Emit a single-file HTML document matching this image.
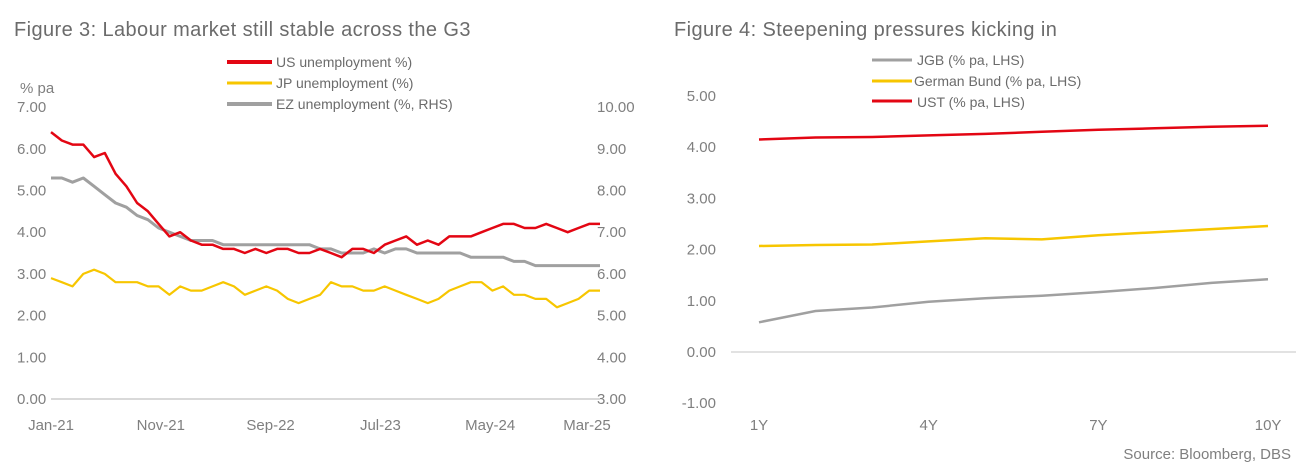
<!DOCTYPE html>
<html><head><meta charset="utf-8"><style>
html,body{margin:0;padding:0;background:#fff;}
svg{display:block;font-family:"Liberation Sans",sans-serif;}
.t{font-size:15px;fill:#7f7f7f}
.h{font-size:20px;fill:#6b6b6b;letter-spacing:0.4px}
.l{font-size:14px;fill:#6b6b6b}
</style></head><body>
<svg id="s" width="1303" height="469" viewBox="0 0 1303 469">
<text x="14" y="36" class="h">Figure 3:  Labour market still stable across the G3</text>
<text x="674" y="36" class="h">Figure 4:  Steepening pressures kicking in</text>
<text x="20" y="93" class="t">% pa</text>
<line x1="227" y1="62" x2="272" y2="62" stroke="#e30613" stroke-width="4"/>
<text x="276" y="67" class="l">US unemployment %)</text>
<line x1="227" y1="83" x2="272" y2="83" stroke="#f7c600" stroke-width="3"/>
<text x="276" y="88" class="l">JP unemployment (%)</text>
<line x1="227" y1="104" x2="272" y2="104" stroke="#a0a0a0" stroke-width="4"/>
<text x="276" y="109" class="l">EZ unemployment (%, RHS)</text>
<line x1="51" y1="399" x2="600" y2="399" stroke="#d9d9d9" stroke-width="2"/>
<line x1="731" y1="352" x2="1296" y2="352" stroke="#d9d9d9" stroke-width="1.5"/>
<line x1="872" y1="60" x2="912" y2="60" stroke="#a0a0a0" stroke-width="3"/>
<text x="917" y="65" class="l">JGB (% pa, LHS)</text>
<line x1="872" y1="81" x2="912" y2="81" stroke="#f7c600" stroke-width="3"/>
<text x="914" y="86" class="l">German Bund (% pa, LHS)</text>
<line x1="872" y1="101" x2="912" y2="101" stroke="#e30613" stroke-width="3"/>
<text x="917" y="107" class="l">UST (% pa, LHS)</text>
<text x="1291" y="459" class="t" text-anchor="end">Source: Bloomberg, DBS</text>
<g id="g"></g>
</svg>
<script>
var g=document.getElementById('g'),h='';
function T(x,y,s,a){h+='<text x="'+x+'" y="'+y+'" class="t" text-anchor="'+(a||'start')+'">'+s+'</text>';}
for(var i=0;i<=7;i++){var y=399-i*41.7;T(17,y+5,i.toFixed(2));T(597,y+5,(i+3).toFixed(2));}
['Jan-21','Nov-21','Sep-22','Jul-23','May-24','Mar-25'].forEach(function(s,i){T(51+i*109.8+(i==5?-13:0),430,s,'middle');});
var us=[6.4,6.2,6.1,6.1,5.8,5.9,5.4,5.1,4.7,4.5,4.2,3.9,4.0,3.8,3.7,3.7,3.6,3.6,3.5,3.6,3.5,3.6,3.6,3.5,3.5,3.6,3.5,3.4,3.6,3.6,3.5,3.7,3.8,3.9,3.7,3.8,3.7,3.9,3.9,3.9,4.0,4.1,4.2,4.2,4.1,4.1,4.2,4.1,4.0,4.1,4.2,4.2];
var jp=[2.9,2.8,2.7,3.0,3.1,3.0,2.8,2.8,2.8,2.7,2.7,2.5,2.7,2.6,2.6,2.7,2.8,2.7,2.5,2.6,2.7,2.6,2.4,2.3,2.4,2.5,2.8,2.7,2.7,2.6,2.6,2.7,2.6,2.5,2.4,2.3,2.4,2.6,2.7,2.8,2.8,2.6,2.7,2.5,2.5,2.4,2.4,2.2,2.3,2.4,2.6,2.6];
var ez=[8.3,8.3,8.2,8.3,8.1,7.9,7.7,7.6,7.4,7.3,7.1,7.0,6.9,6.8,6.8,6.8,6.7,6.7,6.7,6.7,6.7,6.7,6.7,6.7,6.7,6.6,6.6,6.5,6.5,6.5,6.6,6.5,6.6,6.6,6.5,6.5,6.5,6.5,6.5,6.4,6.4,6.4,6.4,6.3,6.3,6.2,6.2,6.2,6.2,6.2,6.2,6.2];
function P(d,off,c,w){var n=d.length-1,p='';d.forEach(function(v,i){p+=(i?'L':'M')+(51+i*549/n).toFixed(1)+' '+(399-(v-off)*41.7).toFixed(1);});h+='<path d="'+p+'" fill="none" stroke="'+c+'" stroke-width="'+w+'" stroke-linejoin="round"/>';}
P(ez,3,'#a0a0a0',3);P(jp,0,'#f7c600',2.2);P(us,0,'#e30613',2.5);
for(var i=-1;i<=5;i++){var y=352-i*51.2;T(716,y+5,i.toFixed(2),'end');}
['1Y','4Y','7Y','10Y'].forEach(function(s,i){T(759+i*169.7,430,s,'middle');});
function Q(d,c){var p='';d.forEach(function(v,i){p+=(i?'L':'M')+(759+i*56.55).toFixed(1)+' '+(352-v*51.2).toFixed(1);});h+='<path d="'+p+'" fill="none" stroke="'+c+'" stroke-width="2.5"/>';}
Q([0.58,0.8,0.87,0.98,1.05,1.1,1.17,1.25,1.35,1.42],'#a0a0a0');
Q([2.07,2.09,2.1,2.16,2.22,2.2,2.28,2.34,2.4,2.46],'#f7c600');
Q([4.15,4.19,4.2,4.23,4.26,4.3,4.34,4.37,4.4,4.42],'#e30613');
g.innerHTML=h;
</script>
</body></html>
